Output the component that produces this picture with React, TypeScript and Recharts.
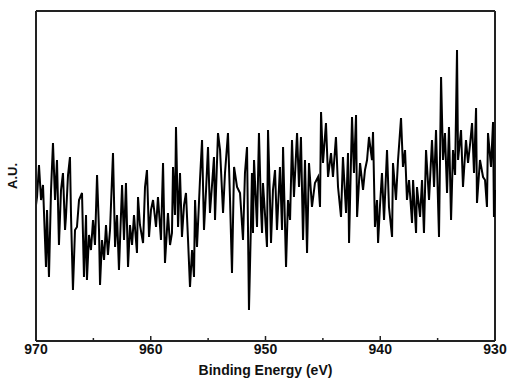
import { LineChart, Line, XAxis, YAxis, ReferenceLine } from 'recharts';

// Binding energy (eV)
const energy = [
  970.0, 969.91, 969.74, 969.56, 969.39, 969.13, 969.04, 968.87, 968.69, 968.52,
  968.34, 968.17, 968.0, 967.82, 967.65, 967.47, 967.39, 967.21, 967.04, 966.95,
  966.78, 966.6, 966.43, 966.25, 965.99, 965.82, 965.64, 965.56, 965.38, 965.21,
  965.03, 964.86, 964.68, 964.51, 964.42, 964.25, 964.07, 963.9, 963.73, 963.55,
  963.29, 963.11, 962.94, 962.77, 962.5, 962.33, 962.16, 961.98, 961.81, 961.63,
  961.46, 961.2, 961.11, 960.94, 960.67, 960.5, 960.33, 960.15, 959.98, 959.8,
  959.54, 959.37, 959.11, 958.93, 958.76, 958.5, 958.32, 958.15, 958.06, 957.89,
  957.8, 957.62, 957.45, 957.28, 957.1, 956.93, 956.75, 956.58, 956.4, 956.23,
  956.14, 955.97, 955.71, 955.53, 955.36, 955.18, 955.01, 954.84, 954.66, 954.49,
  954.4, 954.14, 953.96, 953.7, 953.53, 953.27, 953.09, 952.92, 952.74, 952.48,
  952.22, 951.96, 951.79, 951.61, 951.44, 951.26, 951.18, 951.09, 951.0, 950.74,
  950.57, 950.39, 950.3, 950.22, 950.04, 949.87, 949.78, 949.61, 949.52, 949.35,
  949.17, 949.0, 948.74, 948.56, 948.47, 948.21, 948.04, 947.86, 947.69, 947.52,
  947.25, 947.08, 946.91, 946.73, 946.56, 946.38, 946.21, 945.95, 945.69, 945.42,
  945.25, 945.16, 944.99, 944.73, 944.55, 944.29, 944.12, 943.86, 943.68, 943.42,
  943.25, 942.98, 942.81, 942.72, 942.46, 942.29, 942.11, 942.02, 941.76, 941.5,
  941.33, 941.15, 940.98, 940.72, 940.63, 940.46, 940.28, 940.19, 940.02, 939.85,
  939.67, 939.41, 939.24, 938.97, 938.89, 938.63, 938.45, 938.19, 938.02, 937.84,
  937.67, 937.49, 937.23, 937.14, 936.88, 936.8, 936.53, 936.36, 936.19, 936.01,
  935.75, 935.49, 935.31, 935.14, 934.88, 934.7, 934.53, 934.36, 934.18, 934.01,
  933.83, 933.66, 933.48, 933.31, 933.22, 932.96, 932.79, 932.53, 932.35, 932.18,
  932.0, 931.83, 931.65, 931.57, 931.31, 931.04, 930.87, 930.7, 930.61, 930.35,
  930.17, 930.09, 930.0,
];

// Intensity (arbitrary units)
const intensity = [
  136, 144, 176, 141, 156, 74, 131, 64, 151, 198,
  141, 181, 96, 151, 168, 111, 124, 166, 184, 126,
  51, 111, 114, 141, 148, 64, 126, 61, 106, 91,
  121, 96, 166, 111, 56, 101, 81, 116, 86, 111,
  188, 94, 126, 71, 156, 101, 158, 74, 116, 96,
  126, 88, 144, 116, 98, 154, 171, 104, 131, 141,
  114, 144, 101, 178, 78, 128, 96, 108, 174, 126,
  214, 114, 168, 104, 136, 148, 101, 54, 91, 64,
  141, 94, 161, 201, 111, 151, 194, 128, 156, 184,
  121, 208, 191, 128, 168, 208, 141, 68, 174, 154,
  148, 101, 168, 194, 31, 121, 168, 108, 181, 114,
  208, 131, 108, 158, 126, 94, 211, 141, 98, 151,
  171, 111, 174, 111, 194, 74, 141, 121, 201, 144,
  208, 154, 204, 101, 181, 88, 178, 134, 158, 164,
  134, 229, 178, 218, 164, 188, 164, 204, 154, 124,
  184, 128, 188, 98, 224, 168, 226, 124, 178, 151,
  171, 181, 204, 181, 209, 114, 141, 98, 136, 168,
  121, 191, 134, 104, 178, 141, 181, 223, 174, 191,
  141, 161, 118, 161, 108, 154, 124, 161, 108, 191,
  141, 201, 154, 211, 104, 264, 181, 208, 148, 214,
  121, 191, 166, 291, 181, 211, 154, 201, 178, 196,
  218, 168, 233, 138, 181, 164, 161, 134, 208, 174,
  219, 124, 151,
];

const majorTicks = [970, 960, 950, 940, 930];
const allTicks = [970, 965, 960, 955, 950, 945, 940, 935, 930];

const data = energy.map((e, i) => ({ e, v: intensity[i] }));

const frame = '#222';
const font = 'Arial, "Liberation Sans", Helvetica, sans-serif';

function EnergyTick(props: any) {
  const { x, y, payload } = props;
  const major = majorTicks.includes(payload.value);
  return (
    <g>
      <line x1={x} x2={x} y1={y} y2={y - (major ? 5 : 3)} stroke={frame} strokeWidth={1.5} />
      {major && (
        <text x={x} y={y + 13} textAnchor="middle" fontSize={14} fontWeight="bold" fill="#111" fontFamily={font}>
          {payload.value}
        </text>
      )}
    </g>
  );
}

export default function App() {
  return (
    <div style={{ position: 'absolute', left: 0, top: 0, background: '#fff' }}>
      <LineChart width={512} height={391} data={data} margin={{ top: 11, right: 17, left: 0, bottom: 0 }}>
        <XAxis
          dataKey="e"
          type="number"
          domain={[930, 970]}
          reversed
          ticks={allTicks}
          interval={0}
          tick={<EnergyTick />}
          tickLine={false}
          tickSize={0}
          tickMargin={0}
          height={50}
          axisLine={{ stroke: frame, strokeWidth: 2 }}
          label={{
            value: 'Binding Energy (eV)',
            position: 'insideBottom',
            offset: 16,
            fontSize: 14,
            fontWeight: 'bold',
            fill: '#111',
            fontFamily: font,
          }}
        />
        <YAxis
          type="number"
          domain={[0, 330]}
          tick={false}
          tickLine={false}
          width={36}
          axisLine={{ stroke: frame, strokeWidth: 2 }}
          label={{
            value: 'A.U.',
            angle: -90,
            position: 'insideLeft',
            offset: 12,
            fontSize: 13,
            fontWeight: 'bold',
            fill: '#111',
            fontFamily: font,
            style: { textAnchor: 'middle' },
          }}
        />
        <ReferenceLine y={330} stroke={frame} strokeWidth={2} />
        <ReferenceLine x={930} stroke={frame} strokeWidth={2} />
        <Line
          type="linear"
          dataKey="v"
          stroke="#000"
          strokeWidth={2}
          dot={false}
          isAnimationActive={false}
        />
      </LineChart>
    </div>
  );
}
